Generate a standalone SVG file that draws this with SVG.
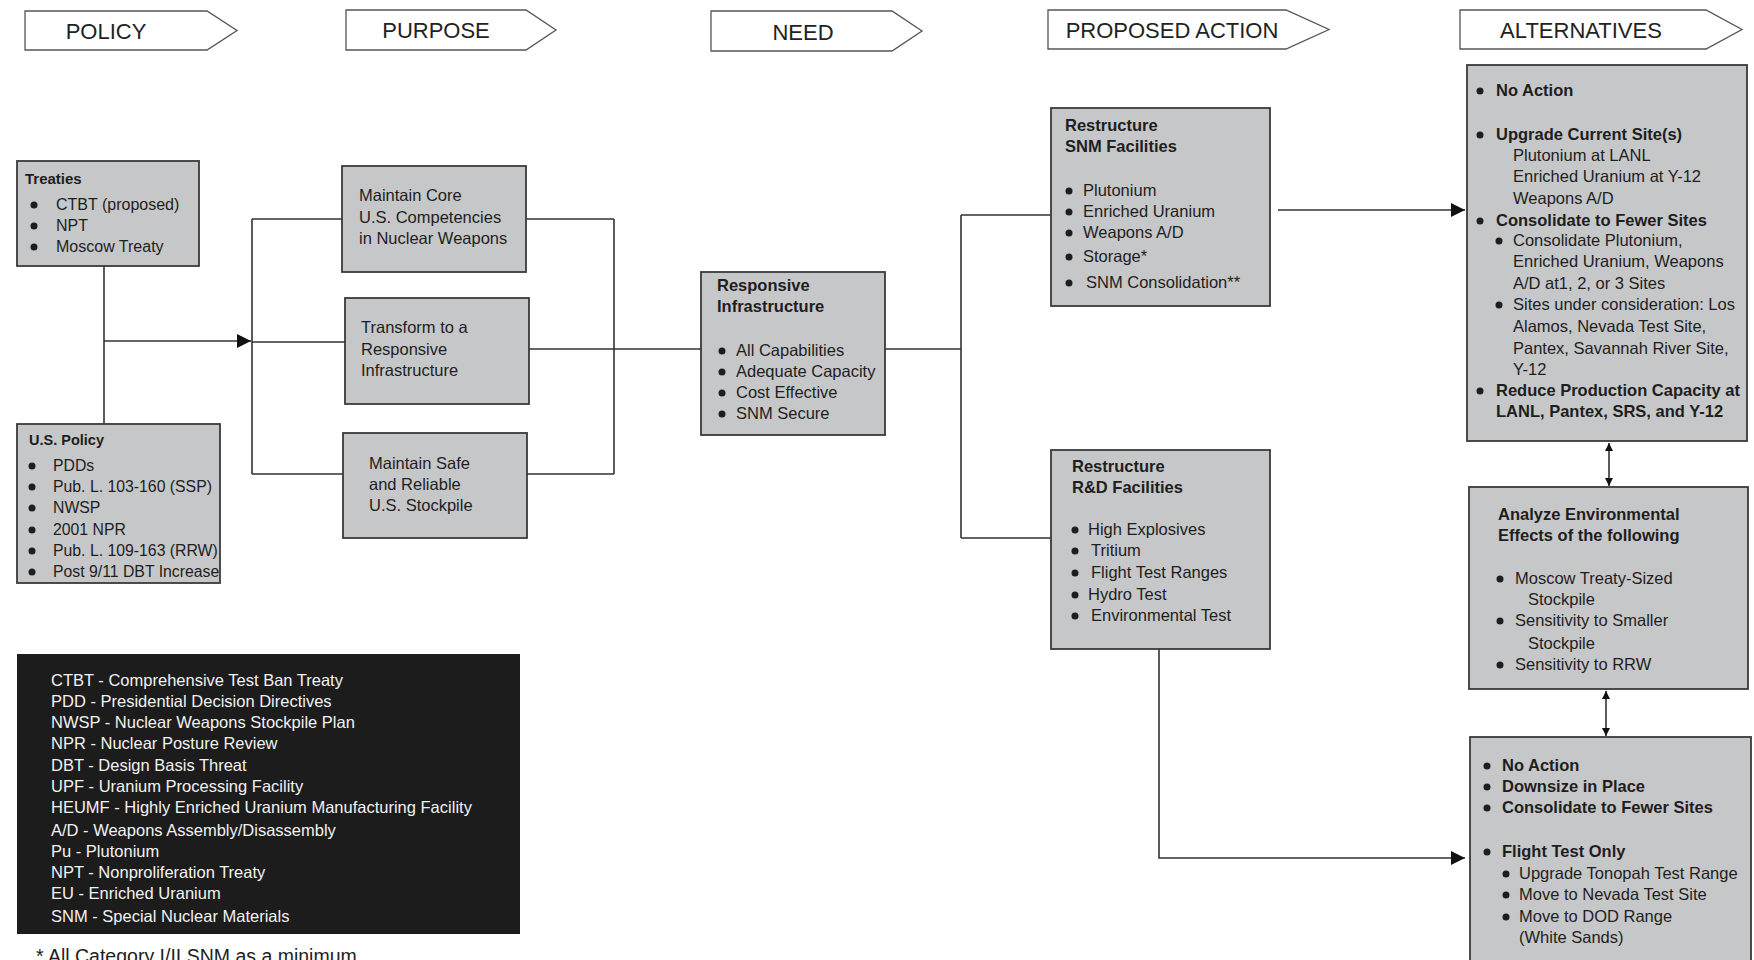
<svg xmlns="http://www.w3.org/2000/svg" width="1754" height="960" viewBox="0 0 1754 960">
<defs>
<style>
.hdr{fill:#fff;stroke:#555;stroke-width:1.3}
.hdrt{font-family:"Liberation Sans",Arial,sans-serif;font-size:22px;fill:#222;text-anchor:middle}
.box{fill:#c6c7c8;stroke:#3a3a3a;stroke-width:1.8}
.t{font-family:"Liberation Sans",Arial,sans-serif;font-size:16.5px;fill:#1e1e1e}
.b{font-weight:bold}
.w{fill:#f2f2f2}
.dot{fill:#1e1e1e}
.ln{stroke:#333;stroke-width:1.6;fill:none}
.s16{font-size:16px}
.s158{font-size:15.8px}
.s15{font-size:15px}
.s145{font-size:14.5px}
.fn{font-size:19.5px}
</style>
<marker id="ah" viewBox="0 0 10 10" refX="10" refY="5" markerWidth="8" markerHeight="8" markerUnits="userSpaceOnUse" orient="auto-start-reverse">
<path d="M0,0 L10,5 L0,10 z" fill="#111"/>
</marker>
<marker id="ahL" viewBox="0 0 10 10" refX="10" refY="5" markerWidth="14" markerHeight="14" markerUnits="userSpaceOnUse" orient="auto-start-reverse">
<path d="M0,0 L10,5 L0,10 z" fill="#111"/>
</marker>
</defs>
<rect width="1754" height="960" fill="#fff"/>

<g id="hdr-policy"><path class="hdr" d="M25,11 H207 L237,30.5 L207,50 H25 Z"/><text class="hdrt" x="106" y="39">POLICY</text></g>
<g id="hdr-purpose"><path class="hdr" d="M346,10 H526 L556,30 L526,50 H346 Z"/><text class="hdrt" x="436" y="38">PURPOSE</text></g>
<g id="hdr-need"><path class="hdr" d="M711,11 H892 L922,31 L892,51 H711 Z"/><text class="hdrt" x="803" y="40">NEED</text></g>
<g id="hdr-action"><path class="hdr" d="M1048,10 H1286 L1329,29.5 L1286,49 H1048 Z"/><text class="hdrt" x="1172" y="38">PROPOSED ACTION</text></g>
<g id="hdr-alt"><path class="hdr" d="M1460,10 H1706 L1742,29.5 L1706,49 H1460 Z"/><text class="hdrt" x="1581" y="38">ALTERNATIVES</text></g>

<g id="connectors">
<path class="ln" d="M104,266 V424"/>
<path class="ln" d="M104,341 H251" marker-end="url(#ahL)"/>
<path class="ln" d="M252,219 V474 M252,219 H342 M252,342 H345 M252,474 H343"/>
<path class="ln" d="M526,219 H614 M527,474 H614 M614,219 V474 M529,349 H701"/>
<path class="ln" d="M885,349 H961 M961,215 V538 M961,215 H1051 M961,538 H1051"/>
<path class="ln" d="M1278,210 H1465" marker-end="url(#ahL)"/>
<path class="ln" d="M1159,649 V858 H1465" marker-end="url(#ahL)"/>
<path class="ln" d="M1609,443 V486" marker-start="url(#ah)" marker-end="url(#ah)"/>
<path class="ln" d="M1606,691 V736" marker-start="url(#ah)" marker-end="url(#ah)"/>
</g>

<g id="treaties">
<rect class="box" x="17" y="161" width="182" height="105"/>
<text class="t b s15" x="25" y="184">Treaties</text>
<circle class="dot" cx="34" cy="205" r="3.5"/><text class="t s16" x="56" y="210">CTBT (proposed)</text>
<circle class="dot" cx="34" cy="226" r="3.5"/><text class="t s16" x="56" y="231">NPT</text>
<circle class="dot" cx="34" cy="247" r="3.5"/><text class="t s16" x="56" y="252">Moscow Treaty</text>
</g>

<g id="uspolicy">
<rect class="box" x="17" y="424" width="203" height="159"/>
<text class="t b s145" x="29" y="445">U.S. Policy</text>
<circle class="dot" cx="32" cy="466" r="3.5"/><text class="t s158" x="53" y="471">PDDs</text>
<circle class="dot" cx="32" cy="487" r="3.5"/><text class="t s158" x="53" y="492">Pub. L. 103-160 (SSP)</text>
<circle class="dot" cx="32" cy="508" r="3.5"/><text class="t s158" x="53" y="513">NWSP</text>
<circle class="dot" cx="32" cy="530" r="3.5"/><text class="t s158" x="53" y="535">2001 NPR</text>
<circle class="dot" cx="32" cy="551" r="3.5"/><text class="t s158" x="53" y="556">Pub. L. 109-163 (RRW)</text>
<circle class="dot" cx="32" cy="572" r="3.5"/><text class="t s158" x="53" y="577">Post 9/11 DBT Increase</text>
</g>

<g id="core">
<rect class="box" x="342" y="166" width="184" height="106"/>
<text class="t" x="359" y="201">Maintain Core</text>
<text class="t" x="359" y="223">U.S. Competencies</text>
<text class="t" x="359" y="244">in Nuclear Weapons</text>
</g>

<g id="transform">
<rect class="box" x="345" y="298" width="184" height="106"/>
<text class="t" x="361" y="333">Transform to a</text>
<text class="t" x="361" y="355">Responsive</text>
<text class="t" x="361" y="376">Infrastructure</text>
</g>

<g id="stockpile">
<rect class="box" x="343" y="433" width="184" height="105"/>
<text class="t" x="369" y="469">Maintain Safe</text>
<text class="t" x="369" y="490">and Reliable</text>
<text class="t" x="369" y="511">U.S. Stockpile</text>
</g>

<g id="responsive">
<rect class="box" x="701" y="272" width="184" height="163"/>
<text class="t b" x="717" y="291">Responsive</text>
<text class="t b" x="717" y="312">Infrastructure</text>
<circle class="dot" cx="722" cy="351" r="3.5"/><text class="t" x="736" y="356">All Capabilities</text>
<circle class="dot" cx="722" cy="372" r="3.5"/><text class="t" x="736" y="377">Adequate Capacity</text>
<circle class="dot" cx="722" cy="393" r="3.5"/><text class="t" x="736" y="398">Cost Effective</text>
<circle class="dot" cx="722" cy="414" r="3.5"/><text class="t" x="736" y="419">SNM Secure</text>
</g>

<g id="snm">
<rect class="box" x="1051" y="108" width="219" height="198"/>
<text class="t b" x="1065" y="131">Restructure</text>
<text class="t b" x="1065" y="152">SNM Facilities</text>
<circle class="dot" cx="1069" cy="191" r="3.5"/><text class="t" x="1083" y="196">Plutonium</text>
<circle class="dot" cx="1069" cy="212" r="3.5"/><text class="t" x="1083" y="217">Enriched Uranium</text>
<circle class="dot" cx="1069" cy="233" r="3.5"/><text class="t" x="1083" y="238">Weapons A/D</text>
<circle class="dot" cx="1069" cy="257" r="3.5"/><text class="t" x="1083" y="262">Storage*</text>
<circle class="dot" cx="1069" cy="283" r="3.5"/><text class="t" x="1086" y="288">SNM Consolidation**</text>
</g>

<g id="rnd">
<rect class="box" x="1051" y="450" width="219" height="199"/>
<text class="t b" x="1072" y="472">Restructure</text>
<text class="t b" x="1072" y="493">R&amp;D Facilities</text>
<circle class="dot" cx="1075" cy="530" r="3.5"/><text class="t" x="1088" y="535">High Explosives</text>
<circle class="dot" cx="1075" cy="551" r="3.5"/><text class="t" x="1091" y="556">Tritium</text>
<circle class="dot" cx="1075" cy="573" r="3.5"/><text class="t" x="1091" y="578">Flight Test Ranges</text>
<circle class="dot" cx="1075" cy="595" r="3.5"/><text class="t" x="1088" y="600">Hydro Test</text>
<circle class="dot" cx="1075" cy="616" r="3.5"/><text class="t" x="1091" y="621">Environmental Test</text>
</g>

<g id="alt1">
<rect class="box" x="1467" y="65" width="280" height="376"/>
<circle class="dot" cx="1480" cy="91" r="3.5"/><text class="t b" x="1496" y="96">No Action</text>
<circle class="dot" cx="1480" cy="135" r="3.5"/><text class="t b" x="1496" y="140">Upgrade Current Site(s)</text>
<text class="t" x="1513" y="161">Plutonium at LANL</text>
<text class="t" x="1513" y="182">Enriched Uranium at Y-12</text>
<text class="t" x="1513" y="204">Weapons A/D</text>
<circle class="dot" cx="1480" cy="221" r="3.5"/><text class="t b" x="1496" y="226">Consolidate to Fewer Sites</text>
<circle class="dot" cx="1499" cy="241" r="3.5"/><text class="t" x="1513" y="246">Consolidate Plutonium,</text>
<text class="t" x="1513" y="267">Enriched Uranium, Weapons</text>
<text class="t" x="1513" y="289">A/D at1, 2,  or 3 Sites</text>
<circle class="dot" cx="1499" cy="305" r="3.5"/><text class="t" x="1513" y="310">Sites under consideration: Los</text>
<text class="t" x="1513" y="332">Alamos, Nevada Test Site,</text>
<text class="t" x="1513" y="354">Pantex, Savannah River Site,</text>
<text class="t" x="1513" y="375">Y-12</text>
<circle class="dot" cx="1480" cy="391" r="3.5"/><text class="t b" x="1496" y="396">Reduce Production Capacity at</text>
<text class="t b" x="1496" y="417">LANL, Pantex, SRS, and Y-12</text>
</g>

<g id="alt2">
<rect class="box" x="1469" y="487" width="279" height="202"/>
<text class="t b" x="1498" y="520">Analyze Environmental</text>
<text class="t b" x="1498" y="541">Effects of the following</text>
<circle class="dot" cx="1500" cy="579" r="3.5"/><text class="t" x="1515" y="584">Moscow Treaty-Sized</text>
<text class="t" x="1528" y="605">Stockpile</text>
<circle class="dot" cx="1500" cy="621" r="3.5"/><text class="t" x="1515" y="626">Sensitivity to Smaller</text>
<text class="t" x="1528" y="649">Stockpile</text>
<circle class="dot" cx="1500" cy="665" r="3.5"/><text class="t" x="1515" y="670">Sensitivity to RRW</text>
</g>

<g id="alt3">
<rect class="box" x="1470" y="737" width="281" height="240"/>
<circle class="dot" cx="1487" cy="766" r="3.5"/><text class="t b" x="1502" y="771">No Action</text>
<circle class="dot" cx="1487" cy="787" r="3.5"/><text class="t b" x="1502" y="792">Downsize in Place</text>
<circle class="dot" cx="1487" cy="808" r="3.5"/><text class="t b" x="1502" y="813">Consolidate to Fewer Sites</text>
<circle class="dot" cx="1487" cy="852" r="3.5"/><text class="t b" x="1502" y="857">Flight Test Only</text>
<circle class="dot" cx="1506" cy="874" r="3.5"/><text class="t" x="1519" y="879">Upgrade Tonopah Test Range</text>
<circle class="dot" cx="1506" cy="895" r="3.5"/><text class="t" x="1519" y="900">Move to Nevada Test Site</text>
<circle class="dot" cx="1506" cy="917" r="3.5"/><text class="t" x="1519" y="922">Move to DOD Range</text>
<text class="t" x="1519" y="943">(White Sands)</text>
</g>

<g id="legend">
<rect x="17" y="654" width="503" height="280" fill="#1c1c1c"/>
<text class="t w" x="51" y="686">CTBT - Comprehensive Test Ban Treaty</text>
<text class="t w" x="51" y="707">PDD - Presidential Decision Directives</text>
<text class="t w" x="51" y="728">NWSP - Nuclear Weapons Stockpile Plan</text>
<text class="t w" x="51" y="749">NPR - Nuclear Posture Review</text>
<text class="t w" x="51" y="771">DBT - Design Basis Threat</text>
<text class="t w" x="51" y="792">UPF - Uranium Processing Facility</text>
<text class="t w" x="51" y="813">HEUMF - Highly Enriched Uranium Manufacturing Facility</text>
<text class="t w" x="51" y="836">A/D - Weapons Assembly/Disassembly</text>
<text class="t w" x="51" y="857">Pu - Plutonium</text>
<text class="t w" x="51" y="878">NPT - Nonproliferation Treaty</text>
<text class="t w" x="51" y="899">EU - Enriched Uranium</text>
<text class="t w" x="51" y="922">SNM - Special Nuclear Materials</text>
</g>

<g id="footnote">
<text class="t fn" x="36" y="963">*  All Category I/II SNM as a minimum</text>
</g>
</svg>
